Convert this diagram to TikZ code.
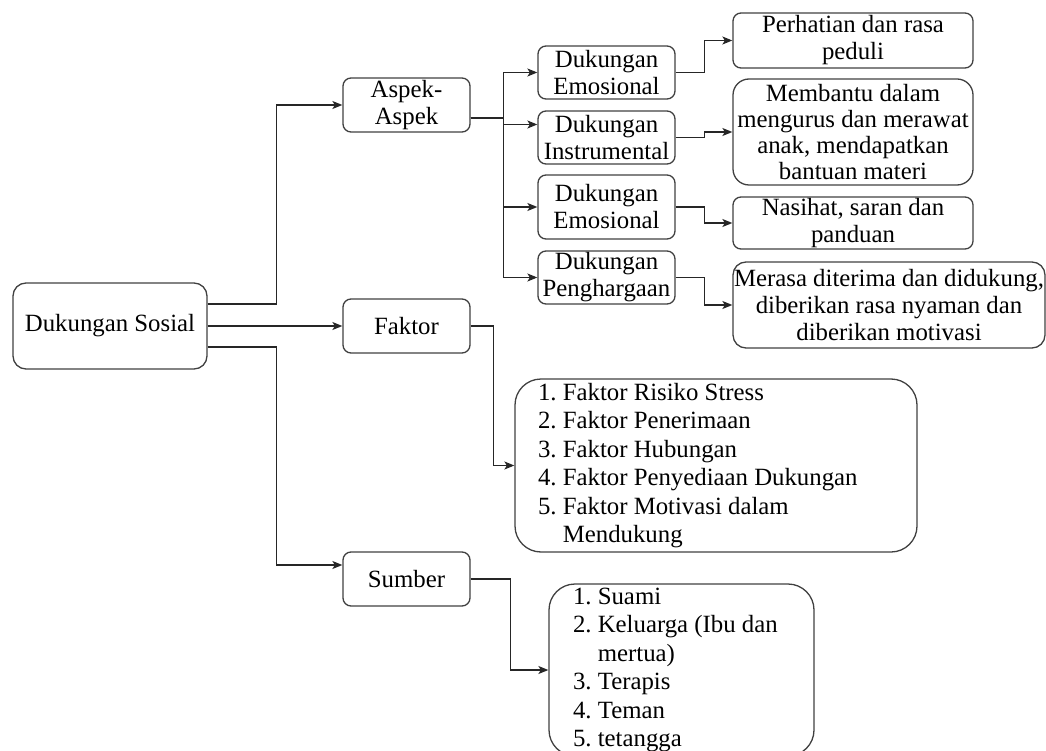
\documentclass[tikz,border=0pt]{standalone}
\usepackage{fontspec}
\setmainfont{Liberation Serif}
\usetikzlibrary{arrows.meta}
\frenchspacing

\begin{document}
\begin{tikzpicture}[x=1pt, y=-1pt,
    box/.style={draw=black!75, line width=1.3pt, rounded corners=8pt, align=center, inner sep=1pt,
        font=\fontsize{24.8}{27}\selectfont},
    list/.style={box, align=flush left, inner xsep=23pt, rounded corners=26pt,
        font=\fontsize{24.8}{28.4}\selectfont},
    link/.style={draw=black!85, line width=1.3pt, -{Stealth[length=10pt, width=8pt, inset=2.5pt]}}]
    \useasboundingbox (0,0) rectangle (1046,751);

    % Root
    \node[box, minimum width=194pt, minimum height=86pt, rounded corners=13pt] at (110,326) (ds) {Dukungan Sosial};

    % Second level
    \node[box, minimum width=127pt, minimum height=54pt] at (406.5,105) (asp) {Aspek-\\Aspek};
    \node[box, minimum width=127pt, minimum height=54pt] at (406.5,326) (fak) {Faktor};
    \node[box, minimum width=127pt, minimum height=54pt] at (406.5,579) (sum) {Sumber};

    % Aspects
    \node[box, minimum width=137pt, minimum height=53pt] at (606.5,72.5) (e1) {Dukungan\\Emosional};
    \node[box, minimum width=137pt, minimum height=53pt] at (606.5,137.5) (ins) {Dukungan\\Instrumental};
    \node[box, minimum width=137pt, minimum height=64pt] at (606.5,207) (e2) {Dukungan\\Emosional};
    \node[box, minimum width=137pt, minimum height=53pt] at (606.5,277.5) (pgh) {Dukungan\\Penghargaan};

    % Descriptions
    \node[box, minimum width=240pt, minimum height=55pt] at (853,40.5) (r1) {Perhatian dan rasa\\peduli};
    \node[box, minimum width=240pt, minimum height=106pt, rounded corners=16pt,
        font=\fontsize{24.8}{26.3}\selectfont] at (853,132) (r2)
        {Membantu dalam\\mengurus dan merawat\\anak, mendapatkan\\bantuan materi};
    \node[box, minimum width=240pt, minimum height=52pt] at (853,223) (r3) {Nasihat, saran dan\\panduan};
    \node[box, minimum width=312pt, minimum height=86pt, rounded corners=13pt,
        font=\fontsize{24.8}{26.7}\selectfont] at (889,305) (r4)
        {Merasa diterima dan didukung,\\diberikan rasa nyaman dan\\diberikan motivasi};

    % Lists
    \node[list, text width=356pt, minimum height=173pt] at (716,465.5) (lf)
        {1. Faktor Risiko Stress\\2. Faktor Penerimaan\\3. Faktor Hubungan\\4. Faktor Penyediaan Dukungan\\5. Faktor Motivasi dalam\\\hphantom{5. }Mendukung};
    \node[list, inner xsep=24pt, text width=217pt, minimum height=172pt] at (681.5,670) (ls)
        {1. Suami\\2. Keluarga (Ibu dan\\\hphantom{2. }mertua)\\3. Terapis\\4. Teman\\5. tetangga};

    % Root to second level
    \draw[link] ([yshift=22pt]ds.east) -- ++(69,0) |- (asp.west);
    \draw[link] (ds.east) -- (fak.west);
    \draw[link] ([yshift=-21pt]ds.east) -- ++(69,0) |- ([yshift=14pt]sum.west);

    % Aspek branches
    \draw[link] ([yshift=-13pt]asp.east) -- ++(33,0) |- (e1.west);
    \draw[link] ([yshift=-13pt]asp.east) -- ++(33,0) |- ([yshift=13pt]ins.west);
    \draw[link] ([yshift=-13pt]asp.east) -- ++(33,0) |- (e2.west);
    \draw[link] ([yshift=-13pt]asp.east) -- ++(33,0) |- (pgh.west);

    % Descriptions
    \draw[link] (e1.east) -- ++(29,0) |- (r1.west);
    \draw[link] (ins.east) -- ++(29,0) |- (r2.west);
    \draw[link] (e2.east) -- ++(29,0) |- (r3.west);
    \draw[link] (pgh.east) -- ++(29,0) |- (r4.west);

    % Lists
    \draw[link] (fak.east) -- ++(23,0) |- (lf.west);
    \draw[link] (sum.east) -- ++(40,0) |- (ls.west);
\end{tikzpicture}
\end{document}
